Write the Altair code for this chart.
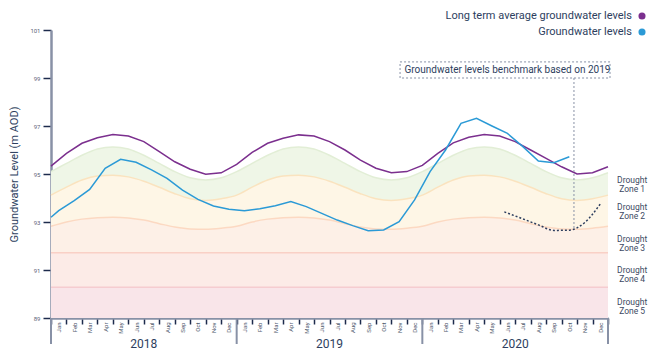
import altair as alt
import pandas as pd

FONT = "Roboto"
NAVY = "#2d3e5e"
TICK = "#1d2b4c"
AXISGRAY = "#8891a6"
PURPLE = "#7b2f8e"
BLUE_C = "#2b9ad6"

MONTHS = ["Jan", "Feb", "Mar", "Apr", "May", "Jun", "Jul", "Aug", "Sep", "Oct", "Nov", "Dec"]
YEARS = ["2018", "2019", "2020"]
YEAR_MID = [6, 18, 30]
YEAR_EDGES = [0, 12, 24, 36]
MONTH_EDGE = list(range(37))

LTA_NAME = "Long term average groundwater levels"
GW_NAME = "Groundwater levels"

# long term average (month boundaries 0..36)
LTA = [95.33, 95.86, 96.28, 96.51, 96.65, 96.58, 96.35, 95.93, 95.51, 95.20, 94.99, 95.05,
       95.40, 95.90, 96.28, 96.49, 96.63, 96.58, 96.35, 96.00, 95.58, 95.24, 95.05, 95.10,
       95.36, 95.86, 96.30, 96.53, 96.65, 96.58, 96.35, 96.00, 95.65, 95.30, 95.00, 95.05, 95.30]

# groundwater levels (start + month centres Jan 2018 .. Oct 2020)
BLUE_X = [0] + [i + 0.5 for i in range(34)]
BLUE = [93.20,
        93.47, 93.89, 94.36, 95.24, 95.61, 95.49, 95.17, 94.82, 94.33, 93.94, 93.67, 93.53,
        93.47, 93.55, 93.68, 93.85, 93.64, 93.36, 93.08, 92.85, 92.64, 92.67, 93.01, 93.92,
        95.10, 96.00, 97.11, 97.32, 97.00, 96.69, 96.14, 95.54, 95.47, 95.72]

# benchmark based on 2019
BENCH_X = [29.3, 30.5, 31.5, 32.5, 33.5, 34.5, 35.5]
BENCH = [93.42, 93.13, 92.88, 92.65, 92.66, 92.98, 93.75]
BENCH_MARK_X = 33.8
BENCH_MARK_Y = 92.67

# drought zone boundaries (month boundaries 0..36)
ZONE1_TOP = [95.10, 95.44, 95.78, 96.04, 96.13, 96.04, 95.78, 95.44, 95.10, 94.84, 94.75, 94.84,
             95.10, 95.44, 95.78, 96.04, 96.13, 96.04, 95.78, 95.44, 95.10, 94.84, 94.75, 94.84,
             95.10, 95.44, 95.78, 96.04, 96.13, 96.04, 95.78, 95.44, 95.10, 94.84, 94.75, 94.84, 95.05]
ZONE2_TOP = [94.12, 94.45, 94.75, 94.92, 94.95, 94.88, 94.70, 94.45, 94.18, 93.97, 93.90, 93.97,
             94.12, 94.45, 94.75, 94.92, 94.95, 94.88, 94.70, 94.45, 94.18, 93.97, 93.90, 93.97,
             94.12, 94.45, 94.75, 94.92, 94.95, 94.88, 94.70, 94.45, 94.18, 93.97, 93.90, 93.97, 94.12]
ZONE3_TOP = [92.82, 93.00, 93.12, 93.18, 93.20, 93.17, 93.08, 92.93, 92.79, 92.71, 92.70, 92.74,
             92.82, 93.00, 93.12, 93.18, 93.20, 93.17, 93.08, 92.93, 92.79, 92.71, 92.70, 92.74,
             92.82, 93.00, 93.12, 93.18, 93.20, 93.17, 93.08, 92.93, 92.79, 92.71, 92.70, 92.74, 92.82]
ZONE4_TOP = 91.72
ZONE5_TOP = 90.28
Y_MIN, Y_MAX = 89, 101
Y_TICKS = [89, 91, 93, 95, 97, 99, 101]

ZONE_FILLS = ["#eff6e7", "#fef6e6", "#fdf0e7", "#fcebe7", "#f9e5e9"]
ZONE_EDGES = ["#e2eed6", "#fae3bf", "#fcd9c2", "#f9d0c6", "#f5ccd0"]
ZONE_LABELS = ["Drought\nZone 1", "Drought\nZone 2", "Drought\nZone 3", "Drought\nZone 4", "Drought\nZone 5"]
ZONE_LABEL_Y = [94.73, 93.63, 92.30, 90.98, 89.68]
ZONE_LABEL_X = 37.56

NOTE = "Groundwater levels benchmark based on 2019"
NOTE_BOX = dict(x=22.56, x2=36.13, y=99.67, y2=99.0)
NOTE_X, NOTE_Y = 29.5, 99.33

X_SCALE = alt.Scale(domain=[0, 36], nice=False, zero=False)
Y_SCALE = alt.Scale(domain=[Y_MIN, Y_MAX], nice=False, zero=False)
COLOR_SCALE = alt.Scale(domain=[LTA_NAME, GW_NAME], range=[PURPLE, BLUE_C])

month_expr = "datum.value < 36 ? " + str(MONTHS) + "[datum.value % 12] : ''"

X_AXIS = alt.Axis(values=MONTH_EDGE, title=None, grid=False, tickSize=6, tickWidth=1.5,
                  tickColor=TICK, domainColor=AXISGRAY, domainWidth=2.5, labelAngle=270,
                  labelAlign="right", labelBaseline="middle", labelFontSize=6, labelFont=FONT,
                  labelColor="#4b5569", labelPadding=-2, labelOffset=7.7, labelExpr=month_expr,
                  labelOverlap=False, labelFlush=False)
Y_AXIS = alt.Axis(values=Y_TICKS, title="Groundwater Level (m AOD)", grid=False, tickSize=8,
                  tickWidth=1.5, tickColor=TICK, domainColor=AXISGRAY, domainWidth=2.5,
                  labelFontSize=6, labelFont=FONT, labelColor="#5b6478", labelPadding=3,
                  titleFont=FONT, titleFontSize=11, titleFontWeight="normal", titleColor=NAVY,
                  titleAngle=270, titleX=-37, titleY=144, titleAlign="center",
                  titleBaseline="middle")


def X(field="x"):
    return alt.X(f"{field}:Q", scale=X_SCALE, axis=X_AXIS)


def Y(field="y"):
    return alt.Y(f"{field}:Q", scale=Y_SCALE, axis=Y_AXIS)


zone_df = pd.DataFrame({
    "x": MONTH_EDGE, "z1": ZONE1_TOP, "z2": ZONE2_TOP, "z3": ZONE3_TOP,
    "z4": [ZONE4_TOP] * 37, "z5": [ZONE5_TOP] * 37, "z0": [Y_MIN] * 37,
})
bounds = ["z1", "z2", "z3", "z4", "z5", "z0"]

layers = []
for k in range(5):
    layers.append(
        alt.Chart(zone_df).mark_area(interpolate="monotone", color=ZONE_FILLS[k], opacity=1)
        .encode(x=X(), y=Y(bounds[k]), y2=alt.Y2(bounds[k + 1]))
    )
for k in range(5):
    layers.append(
        alt.Chart(zone_df).mark_line(interpolate="monotone", color=ZONE_EDGES[k], strokeWidth=1.5)
        .encode(x=X(), y=Y(bounds[k]))
    )

lta_df = pd.DataFrame({"x": MONTH_EDGE, "y": LTA})
gw_df = pd.DataFrame({"x": BLUE_X, "y": BLUE})
layers.append(
    alt.Chart(lta_df).mark_line(strokeWidth=1.5, color=PURPLE).encode(x=X(), y=Y())
)
layers.append(
    alt.Chart(gw_df).mark_line(strokeWidth=1.5, color=BLUE_C).encode(x=X(), y=Y())
)

# legend carrier (no marks drawn, legend from the colour scale)
leg_df = pd.DataFrame({"x": [0, 0], "y": [95, 95], "series": [LTA_NAME, GW_NAME]})
layers.append(
    alt.Chart(leg_df).mark_circle(opacity=1)
    .encode(x=X(), y=Y(), color=alt.Color(
        "series:N", scale=COLOR_SCALE,
        legend=alt.Legend(title=None, orient="none", legendX=585.5, legendY=-19.5,
                          direction="vertical", symbolType="circle", symbolSize=50,
                          symbolStrokeWidth=0, labelAlign="right",
                          labelOffset={"expr": "-15.6"},
                          labelFontSize=11, labelFont=FONT, labelColor=NAVY, labelLimit=400,
                          rowPadding=4, padding=0, offset=0)))
    .transform_filter("datum.y > 200")
)

bench_df = pd.DataFrame({"x": BENCH_X, "y": BENCH})
layers.append(
    alt.Chart(bench_df).mark_line(color=NAVY, strokeDash=[2, 2], strokeWidth=1.5,
                                  interpolate="monotone")
    .encode(x=X(), y=Y())
)

vr_df = pd.DataFrame({"x": [BENCH_MARK_X], "y": [NOTE_BOX["y2"]], "y2": [BENCH_MARK_Y]})
layers.append(
    alt.Chart(vr_df).mark_rule(color=AXISGRAY, strokeDash=[2, 2], strokeWidth=1)
    .encode(x=X(), y=Y(), y2=alt.Y2("y2"))
)

box_df = pd.DataFrame({k: [v] for k, v in NOTE_BOX.items()})
layers.append(
    alt.Chart(box_df).mark_rect(filled=False, stroke=AXISGRAY, strokeDash=[2, 2], strokeWidth=1)
    .encode(x=X(), x2=alt.X2("x2"), y=Y(), y2=alt.Y2("y2"))
)
note_df = pd.DataFrame({"x": [NOTE_X], "y": [NOTE_Y], "text": [NOTE]})
layers.append(
    alt.Chart(note_df).mark_text(font=FONT, fontSize=10, color=NAVY, align="center",
                                 baseline="middle")
    .encode(x=X(), y=Y(), text="text:N")
)

zl_df = pd.DataFrame({"x": [ZONE_LABEL_X] * 5, "y": ZONE_LABEL_Y, "text": ZONE_LABELS})
layers.append(
    alt.Chart(zl_df).mark_text(font=FONT, fontSize=8.5, lineHeight=9, lineBreak="\n",
                               color="#3d4a63", align="center", baseline="middle")
    .encode(x=X(), y=Y(), text="text:N")
)

ye_df = pd.DataFrame({"x": YEAR_EDGES})
layers.append(
    alt.Chart(ye_df).mark_rule(color=AXISGRAY, strokeWidth=2)
    .encode(x=X(), y=alt.value(288), y2=alt.value(314))
)
yl_df = pd.DataFrame({"x": YEAR_MID, "text": YEARS})
layers.append(
    alt.Chart(yl_df).mark_text(font=FONT, fontSize=12, color=NAVY, align="center",
                               baseline="middle")
    .encode(x=X(), y=alt.value(314), text="text:N")
)

chart = (
    alt.layer(*layers)
    .properties(width=557, height=288, autosize=alt.AutoSizeParams(type="none"),
                padding={"left": 43, "top": 22, "right": 40, "bottom": 34},
                background="white")
    .configure_view(stroke=None)
)

chart.save("out.html", embed_options={"renderer": "svg", "actions": False})
